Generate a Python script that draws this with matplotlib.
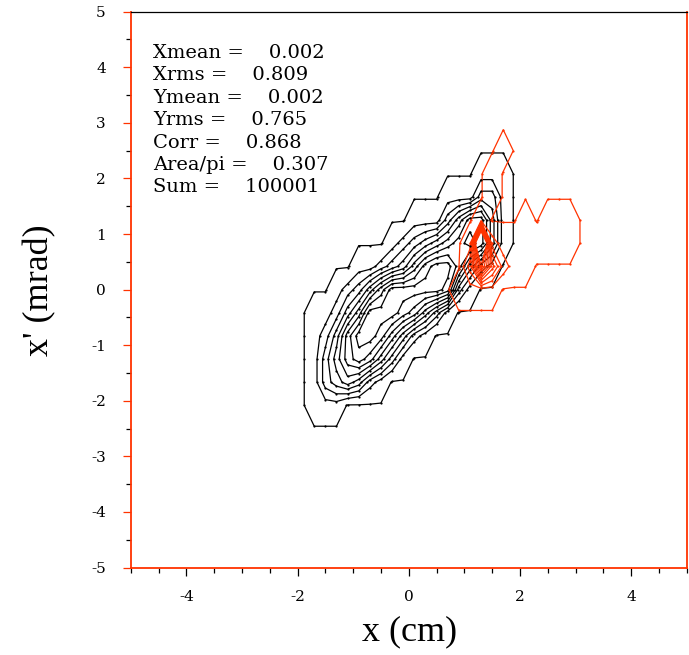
import numpy as np
import matplotlib
matplotlib.use("Agg")
import matplotlib.pyplot as plt
from matplotlib.ticker import FixedLocator, MultipleLocator

plt.rcParams['axes.unicode_minus'] = False

# ---------------- data (binned phase-space counts) -------------
black_x = [-1.9, -1.7, -1.5, -1.3, -1.1, -0.9, -0.7, -0.5, -0.3, -0.1,
           0.1, 0.3, 0.5, 0.7, 0.9, 1.1, 1.3, 1.5, 1.7, 1.9]
black_y = [-2.5, -2.083, -1.667, -1.25, -0.833, -0.417, 0.0,
           0.417, 0.833, 1.25, 1.667, 2.083, 2.5]
black_z = [
    [0, 0, 0, 0, 0, 0, 0, 0, 0, 0, 0, 0, 0, 0, 0, 0, 0, 0, 0, 0],
    [0, 1, 1, 1, 0, 0, 0, 0, 0, 0, 0, 0, 0, 0, 0, 0, 0, 0, 0, 0],
    [0, 1, 3, 4, 5, 4, 2, 1, 0, 0, 0, 0, 0, 0, 0, 0, 0, 0, 0, 0],
    [0, 1, 3, 5, 7, 8, 7, 5, 3, 1, 0, 0, 0, 0, 0, 0, 0, 0, 0, 0],
    [0, 1, 2, 4, 7, 9, 9, 8, 6, 4, 2, 1, 0, 0, 0, 0, 0, 0, 0, 0],
    [0, 1, 1, 2, 4, 6, 9, 9, 9, 8, 7, 5, 3, 1, 0, 0, 0, 0, 0, 0],
    [0, 0, 0, 1, 2, 3, 5, 7, 9, 9, 9, 9, 9, 8, 3, 1, 0, 0, 0, 0],
    [0, 0, 0, 0, 0, 1, 1, 2, 3, 4, 6, 8, 9, 9, 7, 4, 2, 1, 0, 0],
    [0, 0, 0, 0, 0, 0, 0, 0, 1, 2, 3, 4, 5, 6, 7, 8, 7, 4, 1, 0],
    [0, 0, 0, 0, 0, 0, 0, 0, 0, 0, 1, 1, 1, 3, 5, 7, 7, 4, 1, 0],
    [0, 0, 0, 0, 0, 0, 0, 0, 0, 0, 0, 0, 0, 1, 1, 1, 3, 3, 1, 0],
    [0, 0, 0, 0, 0, 0, 0, 0, 0, 0, 0, 0, 0, 0, 0, 0, 1, 1, 1, 0],
    [0, 0, 0, 0, 0, 0, 0, 0, 0, 0, 0, 0, 0, 0, 0, 0, 0, 0, 0, 0],
]
black_levels = [0.1, 1.5, 2.5, 3.5, 4.5, 5.5, 6.5, 7.5, 8.5]

red_x = [0.5, 0.7, 0.9, 1.1, 1.3, 1.5, 1.7, 1.9, 2.1, 2.3, 2.5, 2.7, 2.9, 3.1, 3.3]
red_y = [-0.833, -0.417, 0.0, 0.417, 0.833, 1.25, 1.667, 2.083, 2.5, 2.917, 3.333]
red_z = [
    [0, 0, 0, 0, 0, 0, 0, 0, 0, 0, 0, 0, 0, 0, 0],
    [0, 0, 0, 0, 0, 0, 0, 0, 0, 0, 0, 0, 0, 0, 0],
    [0, 0, 1, 1, 1, 1, 0, 0, 0, 0, 0, 0, 0, 0, 0],
    [0, 0, 0, 5, 19, 9, 3, 1, 1, 0, 0, 0, 0, 0, 0],
    [0, 0, 0, 1, 40, 3, 1, 1, 1, 1, 1, 1, 1, 0, 0],
    [0, 0, 0, 0, 1, 0, 0, 0, 1, 0, 1, 1, 1, 0, 0],
    [0, 0, 0, 0, 0, 1, 0, 0, 0, 0, 0, 0, 0, 0, 0],
    [0, 0, 0, 0, 0, 1, 0, 0, 0, 0, 0, 0, 0, 0, 0],
    [0, 0, 0, 0, 0, 0, 1, 0, 0, 0, 0, 0, 0, 0, 0],
    [0, 0, 0, 0, 0, 0, 0, 0, 0, 0, 0, 0, 0, 0, 0],
    [0, 0, 0, 0, 0, 0, 0, 0, 0, 0, 0, 0, 0, 0, 0],
]
red_levels = [0.1, 2, 4, 6, 8, 10, 12, 14, 16, 18, 20]

stat_names = ["Xmean", "Xrms", "Ymean", "Yrms", "Corr", "Area/pi", "Sum"]
stat_values = ["0.002", "0.809", "0.002", "0.765", "0.868", "0.307", "100001"]

x_major = [-4, -2, 0, 2, 4]
y_major = [-5, -4, -3, -2, -1, 0, 1, 2, 3, 4, 5]

# ---------------- figure ----------------
RED = '#ff3300'
W, H = 689, 655
fig = plt.figure(figsize=(W / 100, H / 100), dpi=100)
ax = fig.add_axes([130.8 / W, 1 - 567.5 / H, 555.9 / W, (567.5 - 11.7) / H])

cs_b = ax.contour(black_x, black_y, np.array(black_z, float), levels=black_levels,
                  colors='black', linewidths=0.9)
cs_r = ax.contour(red_x, red_y, np.array(red_z, float), levels=red_levels,
                  colors=RED, linewidths=0.9)

for cs, col in ((cs_b, 'black'), (cs_r, RED)):
    for p in cs.get_paths():
        v = p.vertices
        if len(v) == 0:
            continue
        if p.codes is not None:
            v = v[p.codes != 79]
        ax.plot(v[:, 0], v[:, 1], ls='none', marker='o', ms=1.6, mew=0, color=col)

ax.set_xlim(-5, 5)
ax.set_ylim(-5, 5)

ax.xaxis.set_major_locator(FixedLocator(x_major))
ax.xaxis.set_minor_locator(MultipleLocator(0.5))
ax.yaxis.set_major_locator(FixedLocator(y_major))
ax.yaxis.set_minor_locator(MultipleLocator(0.5))
ax.set_xticklabels([str(v) for v in x_major])
ax.set_yticklabels([str(v) for v in y_major])

ax.tick_params(which='major', direction='out', length=6, width=0.9, pad=10,
               color='black', labelsize=11)
ax.tick_params(which='minor', direction='out', length=3.5, width=0.9, color='black')
ax.tick_params(axis='y', which='major', color=RED, pad=12)
for lab in ax.get_xticklabels() + ax.get_yticklabels():
    lab.set_family('DejaVu Serif')

for side in ('left', 'bottom', 'right'):
    ax.spines[side].set_color(RED)
    ax.spines[side].set_linewidth(1.3)
ax.spines['top'].set_color('black')
ax.spines['top'].set_linewidth(0.9)

fig.text(410 / W, 1 - 632 / H, 'x (cm)', ha='center', va='center',
         fontsize=26, family='Liberation Serif')
fig.text(40 / W, 1 - 290 / H, "x' (mrad)", ha='center', va='center', rotation=90,
         fontsize=26, family='Liberation Serif')

for i, (n, v) in enumerate(zip(stat_names, stat_values)):
    fig.text(153 / W, 1 - (58 + 22.4 * i) / H, f"{n} =    {v}", ha='left',
             va='baseline', fontsize=14, family='DejaVu Serif')

fig.savefig('out.png', dpi=100)
